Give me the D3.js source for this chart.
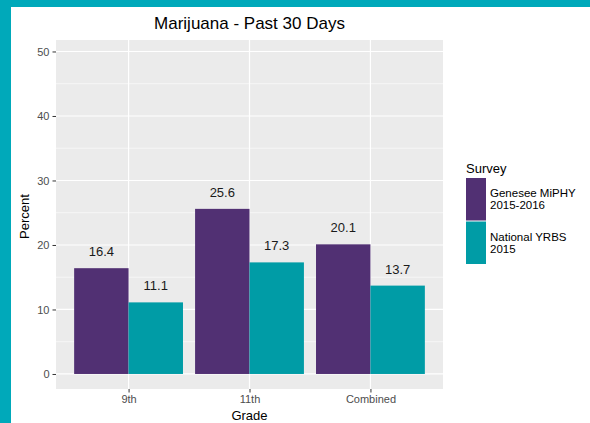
<!DOCTYPE html>
<html><head><meta charset="utf-8">
<script src="https://cdn.jsdelivr.net/npm/d3@7"></script>
<style>body{margin:0;background:#fff}svg{display:block}</style>
</head><body>
<script>
const categories = ["9th", "11th", "Combined"];
const seriesNames = ["Genesee MiPHY\n2015-2016", "National YRBS\n2015"];
const miphy = [16.4, 25.6, 20.1];
const yrbs = [11.1, 17.3, 13.7];
const yTicks = [0, 10, 20, 30, 40, 50];
const yMinor = [5, 15, 25, 35, 45];
const colors = ["#513073", "#009ca6"];

const W = 590, H = 423;
const svg = d3.select("body").append("svg").attr("width", W).attr("height", H);
const font = "Liberation Sans, Arial, sans-serif";

// teal frame
svg.append("rect").attr("x", 0).attr("y", 0).attr("width", W).attr("height", 7).attr("fill", "#00a9ba");
svg.append("rect").attr("x", 0).attr("y", 0).attr("width", 11).attr("height", H).attr("fill", "#00a9ba");

const pL = 56, pR = 443, pT = 40, pB = 389;
const x = d3.scalePoint().domain(categories).range([pL, pR]).padding(0.6);
const step = x.step();
const y = d3.scaleLinear().domain([-2.33, 51.78]).range([pB, pT]);

svg.append("rect").attr("x", pL).attr("y", pT).attr("width", pR - pL).attr("height", pB - pT).attr("fill", "#ebebeb");
const g = svg.append("g");
g.selectAll(".minor").data(yMinor).join("line")
  .attr("x1", pL).attr("x2", pR).attr("y1", d => y(d)).attr("y2", d => y(d))
  .attr("stroke", "#fff").attr("stroke-width", 0.6);
g.selectAll(".major").data(yTicks).join("line")
  .attr("x1", pL).attr("x2", pR).attr("y1", d => y(d)).attr("y2", d => y(d))
  .attr("stroke", "#fff").attr("stroke-width", 1.2);
g.selectAll(".vmajor").data(categories).join("line")
  .attr("y1", pT).attr("y2", pB).attr("x1", d => x(d)).attr("x2", d => x(d))
  .attr("stroke", "#fff").attr("stroke-width", 1.2);

const bw = step * 0.9 / 2;
const series = [miphy, yrbs];
series.forEach((vals, si) => {
  const gx = d => x(categories[d]) - bw + si * bw;
  g.selectAll(".bar" + si).data(vals).join("rect")
    .attr("x", (d, i) => gx(i)).attr("width", bw)
    .attr("y", d => y(d)).attr("height", d => y(0) - y(d))
    .attr("fill", colors[si]);
  g.selectAll(".lab" + si).data(vals).join("text")
    .attr("x", (d, i) => gx(i) + bw / 2).attr("y", d => y(d) - 12)
    .attr("text-anchor", "middle").attr("font-family", font).attr("font-size", 13)
    .attr("fill", "#1a1a1a").text(d => d.toFixed(1));
});

// axes
const yAxis = d3.axisLeft(y).tickValues(yTicks).tickSize(3.5).tickPadding(3);
const ya = svg.append("g").attr("transform", `translate(${pL},0)`).call(yAxis);
const xAxis = d3.axisBottom(x).tickSize(3.5).tickPadding(3);
const xa = svg.append("g").attr("transform", `translate(0,${pB})`).call(xAxis);
[ya, xa].forEach(a => {
  a.select(".domain").remove();
  a.selectAll(".tick line").attr("stroke", "#333").attr("stroke-width", 1);
  a.selectAll(".tick text").attr("fill", "#4d4d4d").attr("font-size", 11).attr("font-family", font);
});

svg.append("text").attr("x", (pL + pR) / 2).attr("y", 29).attr("text-anchor", "middle")
  .attr("font-family", font).attr("font-size", 17).attr("fill", "#000").text("Marijuana - Past 30 Days");
svg.append("text").attr("x", (pL + pR) / 2).attr("y", 420).attr("text-anchor", "middle")
  .attr("font-family", font).attr("font-size", 13).attr("fill", "#000").text("Grade");
svg.append("text").attr("transform", `translate(29,${(pT + pB) / 2 + 2}) rotate(-90)`).attr("text-anchor", "middle")
  .attr("font-family", font).attr("font-size", 13).attr("fill", "#000").text("Percent");

// legend
const lg = svg.append("g");
lg.append("text").attr("x", 466).attr("y", 172.5).attr("font-family", font).attr("font-size", 13).text("Survey");
const keyH = 42.5;
seriesNames.forEach((name, i) => {
  const ky = 178 + i * (keyH + 1);
  lg.append("rect").attr("x", 466).attr("y", ky).attr("width", 20).attr("height", keyH).attr("fill", colors[i]);
  const lines = name.split("\n");
  lines.forEach((ln, j) => {
    lg.append("text").attr("x", 490).attr("y", ky + 19 + j * 12).attr("font-family", font)
      .attr("font-size", 11.5).attr("fill", "#000").text(ln);
  });
});
</script>
</body></html>
